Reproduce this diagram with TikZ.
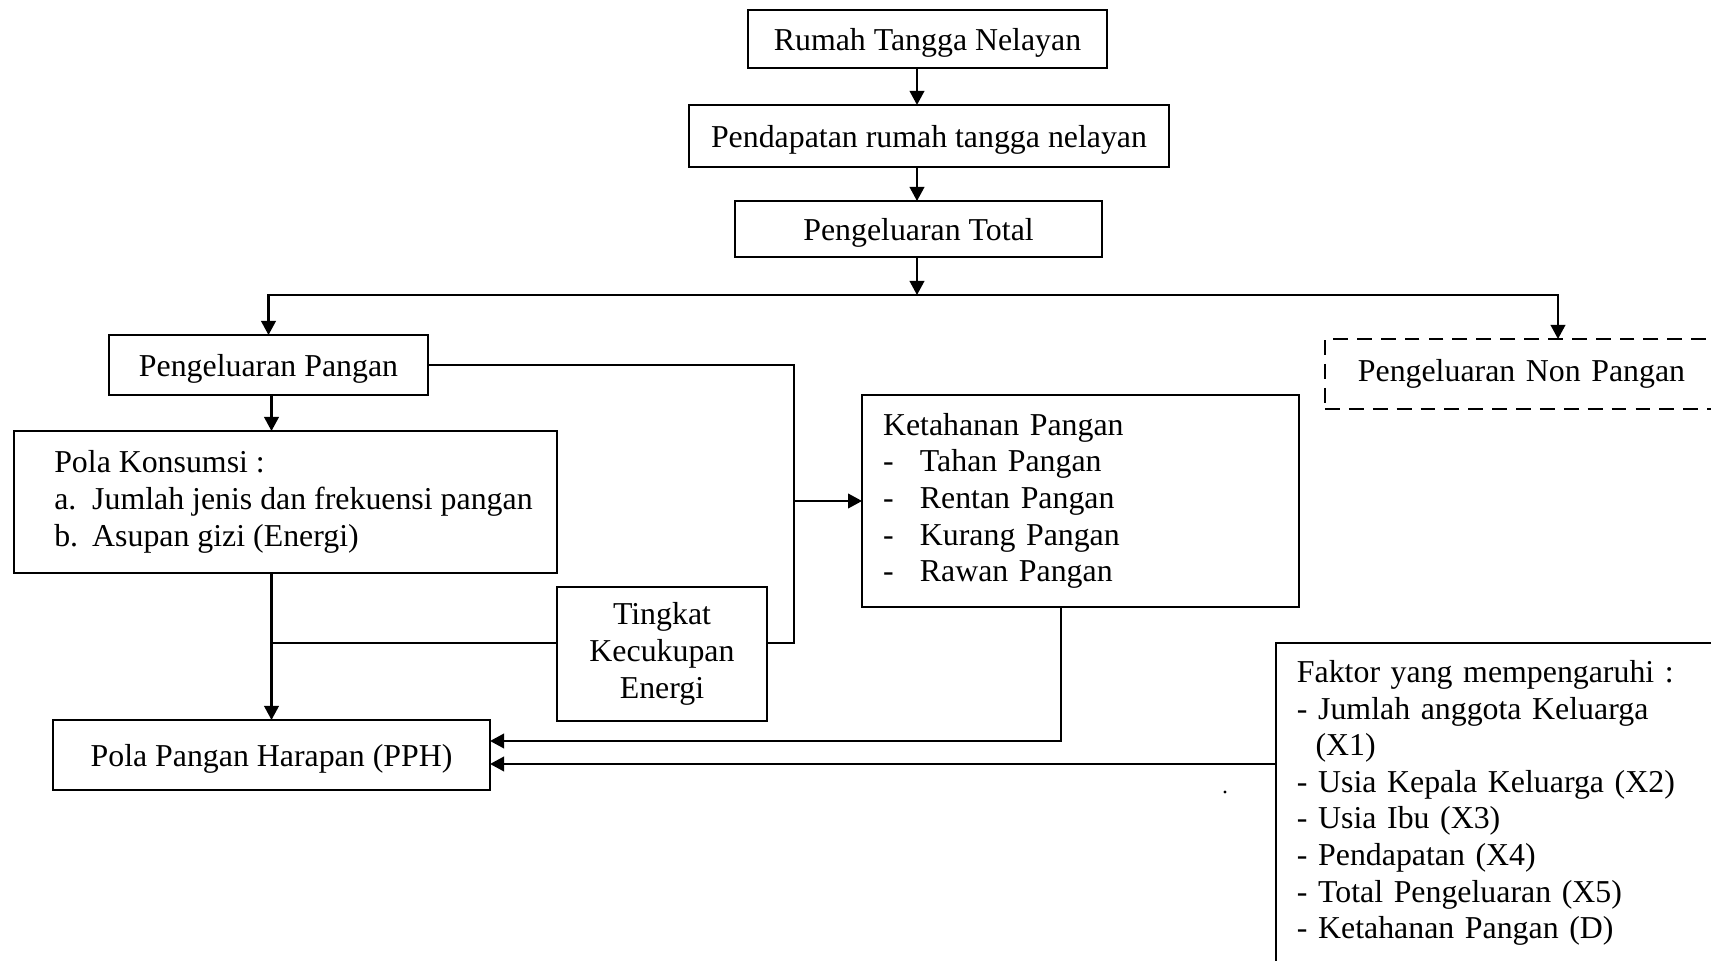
\documentclass[tikz,border=0pt]{standalone}
\usepackage{fontspec}
\setmainfont{Liberation Serif}
\usetikzlibrary{arrows.meta}

\begin{document}
\begin{tikzpicture}[x=0.3768pt, y=-0.3768pt, line width=0.75pt,
  every node/.style={inner sep=0pt, outer sep=0pt, font=\fontsize{12pt}{13.8pt}\selectfont},
  box/.style={draw, rectangle},
  single/.style={box, text depth=0pt},
  listbox/.style={box, align=left, inner xsep=7.9pt},
  arr/.style={line width=0.8pt, -{Triangle[length=5.3pt,width=5.5pt]}}]
\path[use as bounding box, clip] (0,0) rectangle (1711,961);

% Top column
\node[single, minimum width=135.3pt, minimum height=21.9pt] (rtn) at (927.5,39) {Rumah Tangga Nelayan};
\node[single, minimum width=180.9pt, minimum height=23.4pt] (prn) at (929,136) {Pendapatan rumah tangga nelayan};
\node[single, minimum width=138.3pt, minimum height=21.1pt] (pt) at (918.5,229) {Pengeluaran Total};

% Second row
\node[single, minimum width=120.2pt, minimum height=22.6pt] (pp) at (268.5,365) {Pengeluaran Pangan};
\node[box, dash pattern=on 5.6pt off 3.4pt, align=left, text width=150.8pt, inner xsep=12.4pt, minimum height=26.4pt] (npn) at (1558,374) {Pengeluaran Non Pangan};

% Middle boxes
\node[box, align=left, inner xsep=9.3pt, minimum height=53.5pt] (pk) at (285.5,502) {\hspace*{6pt}Pola Konsumsi :\\
  \hspace*{6pt}\makebox[14.3pt][l]{a.}Jumlah jenis dan frekuensi pangan\\
  \hspace*{6pt}\makebox[14.3pt][l]{b.}Asupan gizi (Energi)};
\node[listbox, text width=148.8pt, minimum height=79.9pt] (kp) at (1080.5,501) {Ketahanan Pangan\\
  \makebox[13.9pt][l]{-}Tahan Pangan\\
  \makebox[13.9pt][l]{-}Rentan Pangan\\
  \makebox[13.9pt][l]{-}Kurang Pangan\\
  \makebox[13.9pt][l]{-}Rawan Pangan};
\node[box, align=center, minimum width=79.1pt, minimum height=50.5pt] (tke) at (662,654) {Tingkat\\Kecukupan\\Energi};

% Bottom boxes
\node[single, minimum width=164.7pt, minimum height=26.4pt] (pph) at (271.5,755) {Pola Pangan Harapan (PPH)};
\node[listbox, text width=161.3pt, minimum height=120.6pt] (fak) at (1511,803) {Faktor yang mempengaruhi :\\
  - Jumlah anggota Keluarga\\
  \hspace*{7pt}(X1)\\
  - Usia Kepala Keluarga (X2)\\
  - Usia Ibu (X3)\\
  - Pendapatan (X4)\\
  - Total Pengeluaran (X5)\\
  - Ketahanan Pangan (D)};

% Bends of the connectors
\coordinate (split) at (917,295);
\coordinate (knee) at (794,643);
\coordinate (kd) at (1061,741);
\coordinate (fd) at (1276,764);

% Top column arrows
\draw[arr] (rtn.south -| split) -- (prn.north -| split);
\draw[arr] (prn.south -| split) -- (pt.north -| split);
\draw[arr] (pt.south -| split) -- (split);
\draw[arr] (split) -| (pp.north);
\draw[arr] (split) -| (npn.north);

% Left column arrows
\draw[arr] (pph.north |- pp.south) -- (pph.north |- pk.north);
\draw[arr] (pph.north |- pk.south) -- (pph.north);

% Lines to Ketahanan Pangan
\draw (pp.east) -| (knee) -- (knee -| tke.east);
\draw (knee -| tke.west) -- (knee -| pph.north);
\draw[arr] (knee |- kp.west) -- (kp.west);

% Lines back to PPH
\draw[arr] (kd |- kp.south) -- (kd) -- (kd -| pph.east);
\draw[arr] (fd) -- (fd -| pph.east);

% Stray dot
\fill (1225,792) circle (0.6pt);
\end{tikzpicture}
\end{document}
